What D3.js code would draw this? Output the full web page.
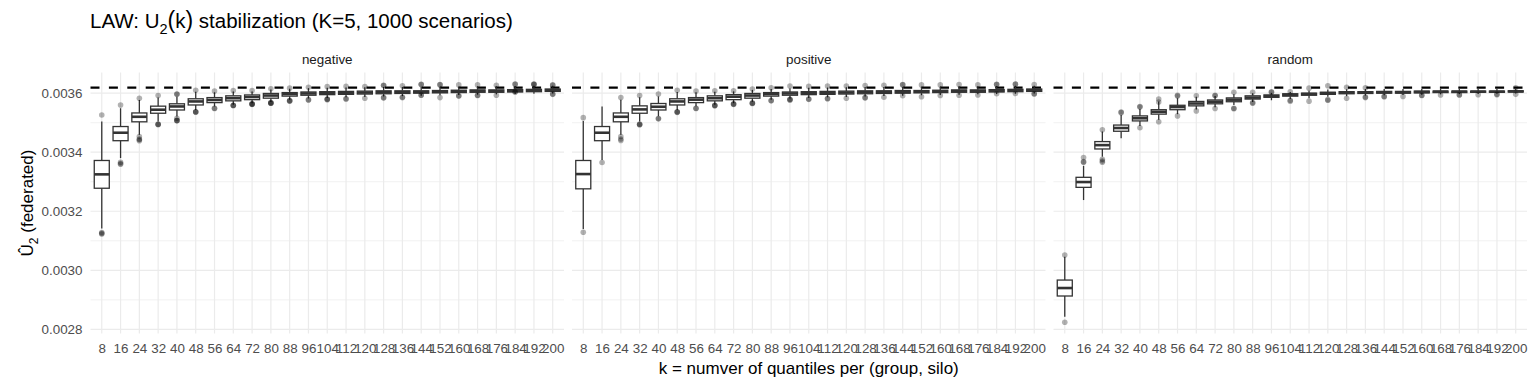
<!DOCTYPE html>
<html>
<head>
<meta charset="utf-8">
<script src="https://cdn.jsdelivr.net/npm/d3@7/dist/d3.min.js"></script>
<style>
  body { margin: 0; background: #fff; }
  svg { display: block; font-family: "Liberation Sans", Arial, Helvetica, sans-serif; }
</style>
</head>
<body>
<svg id="chart" width="1536" height="384"></svg>
<script>

// ---- data ----
var ks = [8, 16, 24, 32, 40, 48, 56, 64, 72, 80, 88, 96, 104, 112, 120, 128, 136, 144, 152, 160, 168, 176, 184, 192, 200];
var facetNames = ["negative", "positive", "random"];
var refValue = 0.003619;
var yTickValues = [0.0028, 0.0030, 0.0032, 0.0034, 0.0036];
var yMinorValues = [0.0029, 0.0031, 0.0033, 0.0035];

// negative
var negMedian = [0.003325, 0.003466, 0.003520, 0.003544, 0.003555, 0.003572, 0.003577, 0.003583, 0.003587, 0.003592, 0.003597, 0.003599, 0.003600, 0.003601, 0.003602, 0.003603, 0.003603, 0.003604, 0.003605, 0.003606, 0.003607, 0.003607, 0.003608, 0.003609, 0.003610];
var negQ1 = [0.003278, 0.003439, 0.003503, 0.003532, 0.003543, 0.003560, 0.003568, 0.003574, 0.003578, 0.003583, 0.003590, 0.003593, 0.003595, 0.003596, 0.003597, 0.003598, 0.003599, 0.003600, 0.003601, 0.003602, 0.003603, 0.003603, 0.003604, 0.003605, 0.003606];
var negQ3 = [0.003372, 0.003487, 0.003533, 0.003556, 0.003564, 0.003581, 0.003585, 0.003591, 0.003594, 0.003599, 0.003602, 0.003604, 0.003605, 0.003606, 0.003607, 0.003608, 0.003608, 0.003608, 0.003609, 0.003610, 0.003611, 0.003611, 0.003612, 0.003613, 0.003614];
var negLow = [0.003142, 0.003380, 0.003459, 0.003504, 0.003521, 0.003543, 0.003555, 0.003561, 0.003566, 0.003570, 0.003578, 0.003582, 0.003584, 0.003586, 0.003587, 0.003589, 0.003590, 0.003591, 0.003593, 0.003594, 0.003595, 0.003596, 0.003597, 0.003598, 0.003599];
var negHigh = [0.003504, 0.003549, 0.003577, 0.003585, 0.003588, 0.003605, 0.003603, 0.003606, 0.003606, 0.003612, 0.003615, 0.003617, 0.003618, 0.003619, 0.003620, 0.003621, 0.003621, 0.003621, 0.003622, 0.003622, 0.003623, 0.003623, 0.003624, 0.003625, 0.003625];
var negOutliers = [
  [0.003526, 0.003128, 0.003125, 0.003123],
  [0.003560, 0.003366, 0.003359, 0.003362],
  [0.003583, 0.003453, 0.003445, 0.003439, 0.003442],
  [0.003592, 0.003494, 0.003494, 0.003495],
  [0.003597, 0.003596, 0.003515, 0.003507, 0.003507, 0.003508],
  [0.003610, 0.003536, 0.003536, 0.003537],
  [0.003607, 0.003548, 0.003549],
  [0.003609, 0.003558, 0.003558, 0.003559],
  [0.003609, 0.003563, 0.003563, 0.003564, 0.003562],
  [0.003615, 0.003566, 0.003567, 0.003568, 0.003566],
  [0.003617, 0.003574, 0.003575, 0.003573],
  [0.003620, 0.003577, 0.003578],
  [0.003622, 0.003579, 0.003580, 0.003578],
  [0.003623, 0.003581, 0.003580],
  [0.003622, 0.003583],
  [0.003626, 0.003627, 0.003584, 0.003585],
  [0.003625, 0.003585, 0.003586],
  [0.003630, 0.003629, 0.003594, 0.003593],
  [0.003628, 0.003629, 0.003585],
  [0.003628, 0.003591, 0.003590],
  [0.003628, 0.003593, 0.003592],
  [0.003627, 0.003593],
  [0.003630, 0.003631, 0.003605, 0.003604],
  [0.003630, 0.003631, 0.003629],
  [0.003627, 0.003628, 0.003597, 0.003596]
];

// positive
var posMedian = [0.003326, 0.003466, 0.003520, 0.003545, 0.003554, 0.003572, 0.003578, 0.003583, 0.003588, 0.003592, 0.003597, 0.003599, 0.003600, 0.003601, 0.003602, 0.003603, 0.003604, 0.003604, 0.003605, 0.003606, 0.003607, 0.003607, 0.003608, 0.003609, 0.003610];
var posQ1 = [0.003276, 0.003439, 0.003503, 0.003532, 0.003543, 0.003560, 0.003568, 0.003574, 0.003578, 0.003583, 0.003590, 0.003593, 0.003595, 0.003596, 0.003597, 0.003598, 0.003599, 0.003600, 0.003601, 0.003602, 0.003603, 0.003603, 0.003604, 0.003605, 0.003606];
var posQ3 = [0.003372, 0.003487, 0.003533, 0.003557, 0.003565, 0.003581, 0.003585, 0.003591, 0.003595, 0.003599, 0.003602, 0.003604, 0.003605, 0.003606, 0.003607, 0.003608, 0.003608, 0.003609, 0.003609, 0.003610, 0.003611, 0.003611, 0.003612, 0.003613, 0.003614];
var posLow = [0.003140, 0.003374, 0.003459, 0.003504, 0.003522, 0.003543, 0.003556, 0.003561, 0.003566, 0.003571, 0.003578, 0.003582, 0.003584, 0.003586, 0.003587, 0.003589, 0.003590, 0.003591, 0.003593, 0.003594, 0.003595, 0.003596, 0.003597, 0.003598, 0.003599];
var posHigh = [0.003506, 0.003555, 0.003578, 0.003586, 0.003589, 0.003604, 0.003603, 0.003605, 0.003606, 0.003611, 0.003614, 0.003616, 0.003618, 0.003619, 0.003620, 0.003621, 0.003621, 0.003621, 0.003622, 0.003622, 0.003623, 0.003623, 0.003624, 0.003625, 0.003625];
var posOutliers = [
  [0.003517, 0.003129],
  [0.003365],
  [0.003585, 0.003453, 0.003445, 0.003440],
  [0.003592, 0.003494, 0.003493, 0.003495],
  [0.003597, 0.003514, 0.003513],
  [0.003610, 0.003536, 0.003535, 0.003537],
  [0.003607, 0.003549, 0.003548],
  [0.003608, 0.003558, 0.003559, 0.003557],
  [0.003608, 0.003563, 0.003562, 0.003564],
  [0.003614, 0.003567, 0.003566, 0.003565],
  [0.003618, 0.003574, 0.003575],
  [0.003624, 0.003579, 0.003578, 0.003577],
  [0.003623, 0.003580, 0.003579],
  [0.003624, 0.003581, 0.003582],
  [0.003624, 0.003583],
  [0.003626, 0.003584, 0.003585],
  [0.003627, 0.003586],
  [0.003629, 0.003628, 0.003591],
  [0.003628, 0.003588],
  [0.003628, 0.003592],
  [0.003629, 0.003593],
  [0.003628, 0.003594],
  [0.003630, 0.003629, 0.003598],
  [0.003631, 0.003630, 0.003599],
  [0.003629, 0.003598, 0.003597]
];

// random
var rndMedian = [0.002940, 0.003299, 0.003424, 0.003482, 0.003515, 0.003537, 0.003553, 0.003565, 0.003571, 0.003578, 0.003585, 0.003590, 0.003594, 0.003597, 0.003600, 0.003602, 0.003602, 0.003603, 0.003603, 0.003604, 0.003605, 0.003605, 0.003605, 0.003605, 0.003606];
var rndQ1 = [0.002913, 0.003281, 0.003411, 0.003471, 0.003506, 0.003529, 0.003544, 0.003557, 0.003564, 0.003571, 0.003580, 0.003586, 0.003590, 0.003593, 0.003596, 0.003598, 0.003599, 0.003600, 0.003600, 0.003601, 0.003602, 0.003602, 0.003603, 0.003603, 0.003604];
var rndQ3 = [0.002967, 0.003315, 0.003436, 0.003492, 0.003523, 0.003544, 0.003559, 0.003572, 0.003577, 0.003584, 0.003591, 0.003594, 0.003598, 0.003600, 0.003603, 0.003605, 0.003605, 0.003606, 0.003606, 0.003607, 0.003607, 0.003607, 0.003607, 0.003607, 0.003608];
var rndLow = [0.002843, 0.003238, 0.003385, 0.003447, 0.003489, 0.003510, 0.003529, 0.003545, 0.003552, 0.003560, 0.003570, 0.003576, 0.003580, 0.003583, 0.003588, 0.003590, 0.003592, 0.003593, 0.003594, 0.003595, 0.003596, 0.003597, 0.003597, 0.003598, 0.003599];
var rndHigh = [0.003046, 0.003354, 0.003470, 0.003526, 0.003546, 0.003572, 0.003583, 0.003588, 0.003590, 0.003596, 0.003600, 0.003601, 0.003604, 0.003608, 0.003612, 0.003613, 0.003614, 0.003614, 0.003614, 0.003614, 0.003614, 0.003614, 0.003614, 0.003614, 0.003614];
var rndOutliers = [
  [0.003052, 0.002824],
  [0.003368, 0.003382, 0.003366],
  [0.003476, 0.003376, 0.003366, 0.003370],
  [0.003534, 0.003536],
  [0.003553, 0.003555, 0.003483],
  [0.003580, 0.003570, 0.003503],
  [0.003593, 0.003590, 0.003523],
  [0.003591, 0.003540],
  [0.003591, 0.003593, 0.003548],
  [0.003603, 0.003547, 0.003549],
  [0.003603, 0.003566, 0.003568],
  [0.003603, 0.003605],
  [0.003605, 0.003573, 0.003576],
  [0.003617, 0.003573],
  [0.003625, 0.003576, 0.003578],
  [0.003620, 0.003583],
  [0.003618, 0.003585, 0.003587],
  [0.003589, 0.003588],
  [0.003589],
  [0.003592, 0.003593],
  [0.003594],
  [0.003595, 0.003594],
  [0.003595],
  [0.003595, 0.003596],
  [0.003618, 0.003596]
];

function facetBoxChart() {

  var __state = {
    panelLeft: 90.5,
    panelWidth: 473.5,
    panelGap: 8,
    panelTop: 72.5,
    panelBottom: 333.5,
    gridColor: "#ebebeb",
    boxColor: "#333333",
    textColor: "#4d4d4d",
    tickFont: "13.4px"
  };

  var series = [
    { median: negMedian, q1: negQ1, q3: negQ3, low: negLow, high: negHigh, outliers: negOutliers },
    { median: posMedian, q1: posQ1, q3: posQ3, low: posLow, high: posHigh, outliers: posOutliers },
    { median: rndMedian, q1: rndQ1, q3: rndQ3, low: rndLow, high: rndHigh, outliers: rndOutliers }
  ];

  var svg = d3.select("#chart");

  var y = d3.scaleLinear()
    .domain([0.002786, 0.00367])
    .range([__state.panelBottom, __state.panelTop]);

  var x = d3.scalePoint()
    .domain(ks)
    .range([0, __state.panelWidth])
    .padding(0.6);

  this.init = function () {
    var self = this;
    facetNames.forEach(function (name, i) {
      self.renderPanel(name, series[i], i);
    });
    self.renderLabels();
  };

  this.renderPanel = function (name, s, i) {
    var x0 = __state.panelLeft + i * (__state.panelWidth + __state.panelGap);
    var g = svg.append("g").attr("transform", "translate(" + x0 + ",0)");
    var W = __state.panelWidth;

    // ========================================================
    // grid
    g.selectAll(".minor").data(yMinorValues).enter().append("line")
      .attr("x1", 0).attr("x2", W)
      .attr("y1", function (d) { return y(d); }).attr("y2", function (d) { return y(d); })
      .attr("stroke", __state.gridColor).attr("stroke-width", 0.7);

    g.selectAll(".major").data(yTickValues).enter().append("line")
      .attr("x1", 0).attr("x2", W)
      .attr("y1", function (d) { return y(d); }).attr("y2", function (d) { return y(d); })
      .attr("stroke", __state.gridColor).attr("stroke-width", 1.2);

    g.selectAll(".vgrid").data(ks).enter().append("line")
      .attr("x1", function (d) { return x(d); }).attr("x2", function (d) { return x(d); })
      .attr("y1", __state.panelTop).attr("y2", __state.panelBottom)
      .attr("stroke", __state.gridColor).attr("stroke-width", 1.2);

    // strip label
    g.append("text")
      .attr("x", W / 2).attr("y", 63.5)
      .attr("text-anchor", "middle")
      .attr("font-size", "13.4px")
      .attr("fill", "#1a1a1a")
      .text(name);

    // reference line
    g.append("line")
      .attr("x1", 0).attr("x2", W)
      .attr("y1", y(refValue)).attr("y2", y(refValue))
      .attr("stroke", "#000").attr("stroke-width", 2.3)
      .attr("stroke-dasharray", "9,9.4");

    // ========================================================
    // boxes
    var rows = ks.map(function (k, j) {
      return { k: k, median: s.median[j], q1: s.q1[j], q3: s.q3[j], low: s.low[j], high: s.high[j], out: s.outliers[j] };
    });
    var bw = x.step() * 0.8;

    g.selectAll(".whiskerHigh").data(rows).enter().append("line")
      .attr("x1", function (d) { return x(d.k); }).attr("x2", function (d) { return x(d.k); })
      .attr("y1", function (d) { return y(d.high); }).attr("y2", function (d) { return y(d.q3); })
      .attr("stroke", __state.boxColor).attr("stroke-width", 1.3);

    g.selectAll(".whiskerLow").data(rows).enter().append("line")
      .attr("x1", function (d) { return x(d.k); }).attr("x2", function (d) { return x(d.k); })
      .attr("y1", function (d) { return y(d.q1); }).attr("y2", function (d) { return y(d.low); })
      .attr("stroke", __state.boxColor).attr("stroke-width", 1.3);

    g.selectAll(".box").data(rows).enter().append("rect")
      .attr("x", function (d) { return x(d.k) - bw / 2; })
      .attr("width", bw)
      .attr("y", function (d) { return y(d.q3); })
      .attr("height", function (d) { return y(d.q1) - y(d.q3); })
      .attr("fill", "#fff")
      .attr("stroke", __state.boxColor).attr("stroke-width", 1.3);

    g.selectAll(".median").data(rows).enter().append("line")
      .attr("x1", function (d) { return x(d.k) - bw / 2; })
      .attr("x2", function (d) { return x(d.k) + bw / 2; })
      .attr("y1", function (d) { return y(d.median); }).attr("y2", function (d) { return y(d.median); })
      .attr("stroke", __state.boxColor).attr("stroke-width", 2.6);

    // outliers
    var pts = [];
    rows.forEach(function (d) {
      d.out.forEach(function (v) { pts.push({ k: d.k, v: v }); });
    });
    g.selectAll(".outlier").data(pts).enter().append("circle")
      .attr("cx", function (d) { return x(d.k); })
      .attr("cy", function (d) { return y(d.v); })
      .attr("r", 2.8)
      .attr("fill", "#000").attr("fill-opacity", 0.3);

    // ========================================================
    // axes
    var xAxis = g.append("g")
      .attr("transform", "translate(0," + __state.panelBottom + ")")
      .call(d3.axisBottom(x).tickSize(0).tickPadding(10));
    xAxis.select(".domain").remove();
    xAxis.selectAll("text")
      .attr("font-size", __state.tickFont)
      .attr("font-family", "Liberation Sans, Arial, sans-serif")
      .attr("fill", __state.textColor);

    if (i === 0) {
      var yAxis = g.append("g")
        .call(d3.axisLeft(y).tickValues(yTickValues).tickSize(0).tickPadding(8).tickFormat(d3.format(".4f")));
      yAxis.select(".domain").remove();
      yAxis.selectAll("text")
        .attr("font-size", __state.tickFont)
        .attr("font-family", "Liberation Sans, Arial, sans-serif")
        .attr("fill", __state.textColor);
    }
  };

  this.renderLabels = function () {
    // title
    var t = svg.append("text")
      .attr("x", 90).attr("y", 28)
      .attr("font-size", "20.5px")
      .attr("fill", "#000");
    t.append("tspan").text("LAW: U");
    t.append("tspan").attr("dy", 5.5).attr("font-size", "14.5px").text("2");
    t.append("tspan").attr("dy", -5.5).attr("font-size", "23px").text("(");
    t.append("tspan").text("k");
    t.append("tspan").attr("font-size", "23px").text(")");
    t.append("tspan").text(" stabilization (K=5, 1000 scenarios)");

    // x title
    var right = __state.panelLeft + 3 * __state.panelWidth + 2 * __state.panelGap;
    svg.append("text")
      .attr("x", (__state.panelLeft + right) / 2).attr("y", 374)
      .attr("text-anchor", "middle")
      .attr("font-size", "17px")
      .attr("fill", "#000")
      .text("k = numver of quantiles per (group, silo)");

    // y title
    var yl = svg.append("text")
      .attr("transform", "translate(33," + ((__state.panelTop + __state.panelBottom) / 2) + ") rotate(-90)")
      .attr("text-anchor", "middle")
      .attr("font-size", "17px")
      .attr("fill", "#000");
    yl.append("tspan").text("Û");
    yl.append("tspan").attr("dy", 4.5).attr("font-size", "12px").text("2");
    yl.append("tspan").attr("dy", -4.5).text(" (federated)");
  };
}

var __chart = new facetBoxChart();
__chart.init();

</script>
</body>
</html>
